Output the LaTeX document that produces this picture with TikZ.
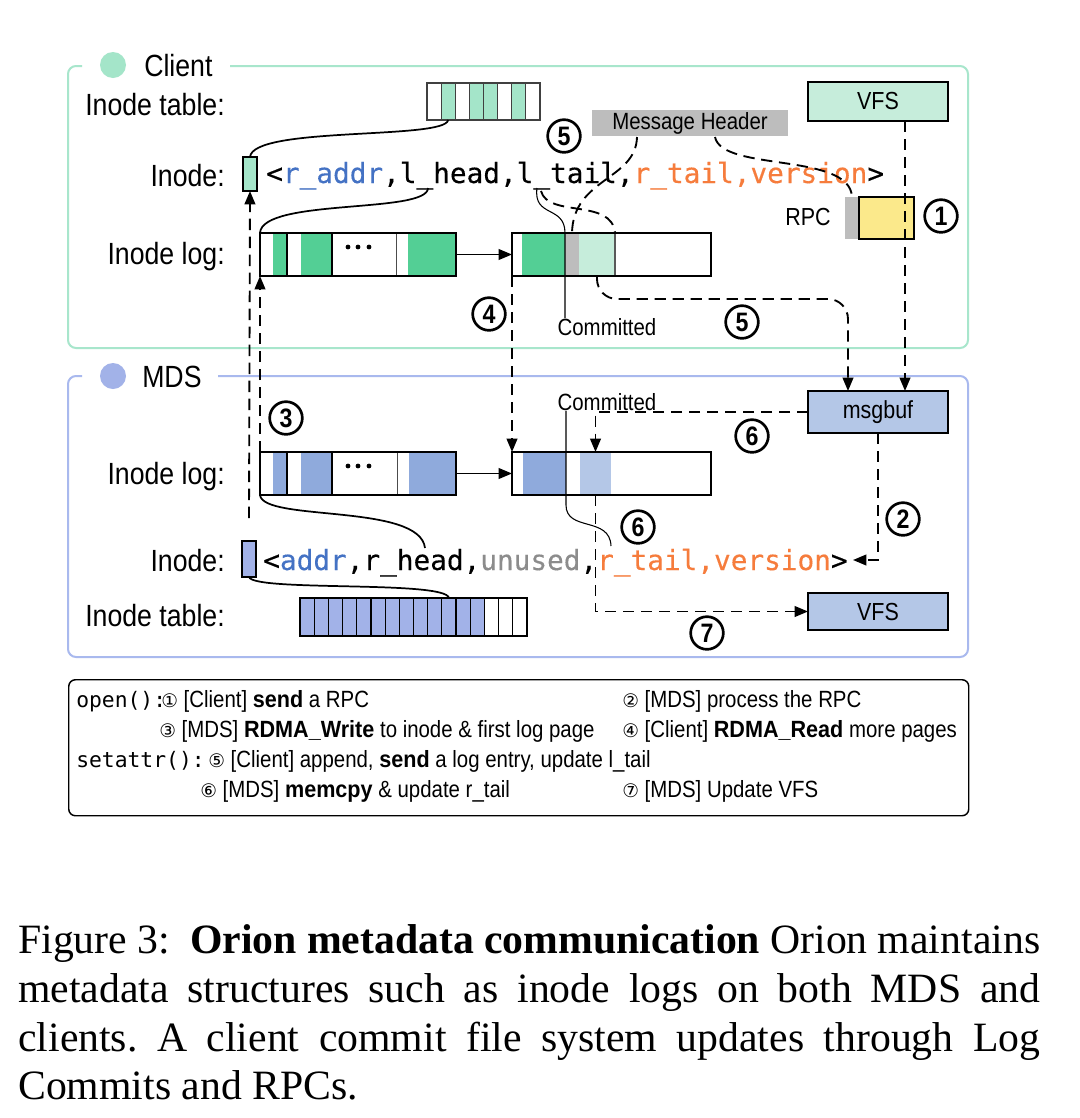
\documentclass[tikz,border=0pt]{standalone}
\usepackage{fontspec}
\setmainfont{Liberation Sans}[FakeStretch=0.87]
\setmonofont{DejaVu Sans Mono}[FakeBold=0.3]
\newfontfamily\legmono{DejaVu Sans Mono}
\newfontfamily\bsans{Liberation Sans Bold}[FakeStretch=0.92]
\newfontfamily\capfont{Liberation Serif}
\newfontfamily\symfont{DejaVu Sans}
\newcommand\lb[1]{{\bsans #1}}
\newcommand\cd[1]{{\symfont\fontsize{14}{14}\selectfont #1}}
\usetikzlibrary{arrows.meta}
\definecolor{cframe}{HTML}{A8E6CC}
\definecolor{mframe}{HTML}{A9B9EE}
\definecolor{mintL}{HTML}{A4E5C9}
\definecolor{mintP}{HTML}{C6EDDB}
\definecolor{gD}{HTML}{53CF95}
\definecolor{grayC}{HTML}{BDBDBD}
\definecolor{yel}{HTML}{FBE98B}
\definecolor{bS}{HTML}{8FAADC}
\definecolor{bL}{HTML}{B4C7E7}
\definecolor{peri}{HTML}{A2B2E8}
\definecolor{cblue}{HTML}{4472C4}
\definecolor{corange}{HTML}{F67C3C}
\definecolor{cgray}{HTML}{8C8C8C}
\newcommand\rb[7]{\node[#6, anchor=north west, minimum width={(#4-#2)*0.75pt}, minimum height={(#5-#3)*0.75pt}] (#1) at (#2,#3) {#7};}
\begin{document}
\frenchspacing
\begin{tikzpicture}[x=0.75pt,y=-0.75pt,
 lbl/.style={inner sep=0, font=\fontsize{23}{26}\selectfont},
 dsh/.style={line width=1.4pt, dash pattern=on 8.5pt off 5pt},
 conn/.style={line width=1.3pt},
 hair/.style={line width=0.8pt},
 cnum/.style={circle, draw, line width=2pt, minimum size=24.5pt, inner sep=0, font=\fontsize{20}{20}\selectfont\bfseries},
 bx/.style={draw, line width=1.1pt, inner sep=0, outer sep=0},
 seg/.style={inner sep=0, outer sep=0},
 code/.style={inner sep=0, font=\fontsize{20.8}{24}\selectfont\ttfamily},
 leg/.style={inner sep=0, font=\fontsize{17.6}{20}\selectfont},
 legm/.style={inner sep=0, font=\fontsize{16}{20}\selectfont\legmono},
 boxt/.style={font=\fontsize{18.5}{20}\selectfont},
 >={Triangle[length=10pt,width=8pt]}]
\useasboundingbox (0,0) rectangle (1080,1118);
\fill[white] (0,0) rectangle (1080,1118);

% ---------- frames ----------
\draw[cframe, line width=1.5pt, rounded corners=6pt] (230,66) -- (968,66) -- (968,348) -- (68,348) -- (68,66) -- (82,66);
\node[circle, fill=mintL, minimum size=19.5pt, inner sep=0] (cdot) at (113,65) {};
\node[lbl, anchor=base west] (clabel) at (144,76) {Client};
\draw[mframe, line width=1.5pt, rounded corners=6pt] (218,376) -- (968,376) -- (968,657) -- (68,657) -- (68,376) -- (82,376);
\node[circle, fill=peri, minimum size=19.5pt, inner sep=0] (mdot) at (113,376) {};
\node[lbl, anchor=base west] (mlabel) at (142,387) {MDS};

% ---------- client ----------
\node[lbl, anchor=base east] (cl1) at (225,115) {Inode table:};
\node[lbl, anchor=base east] (cl2) at (225,186) {Inode:};
\node[lbl, anchor=base east] (cl3) at (225,264) {Inode log:};
\foreach \i/\f in {1/white,2/mintL,3/white,4/mintL,5/mintL,6/white,7/mintL,8/white}
  \node[bx, draw=black!75, line width=0.9pt, fill=\f, anchor=north west, minimum width=10.59pt, minimum height=27.75pt] (ct\i) at ({427+(\i-1)*14.125},83) {};
\rb{cinode}{243}{157}{257}{191}{bx,fill=mintL}{}
\node[code, anchor=base west] (ccode) at (266,183) {<\textcolor{cblue}{r\_addr},l\_head,l\_tail,\textcolor{corange}{r\_tail,version}>};
% client log 1
\fill[gD] (273,233) rectangle (287,276);
\fill[gD] (301,233) rectangle (332,276);
\fill[gD] (408,233) rectangle (456,276);
\draw[line width=0.9pt] (287,233) -- (287,276) (332,233) -- (332,276);
\draw[line width=0.6pt, black!70] (396,233) -- (396,276);
\foreach \xx in {348,358,369} \fill (\xx,247) circle[radius=1.8pt];
\rb{clog1}{260}{233}{456}{276}{bx}{}
% client log 2
\rb{cg2}{522}{233}{565}{276}{seg,fill=gD}{}
\rb{cgray}{565}{233}{579}{276}{seg,fill=grayC}{}
\rb{clight}{579}{233}{615}{276}{seg,fill=mintP}{}
\draw[line width=0.8pt, black!65] (clight.north east) -- (clight.south east);
\rb{clog2}{512}{233}{711}{276}{bx}{}
\draw[conn,->] (clog1.east) -- (clog2.west);
\node[leg, anchor=center] (ccom) at (607,327) {Committed};
% VFS / header / RPC
\rb{cvfs}{808}{82}{948}{121}{bx,fill=mintP,boxt}{VFS}
\rb{mh}{592}{110}{788}{136}{seg,fill=grayC,leg}{Message Header}
\rb{rpcg}{845}{197}{859}{239}{seg,fill=grayC}{}
\rb{rpcy}{859}{197}{914}{239}{bx,fill=yel}{}
\node[leg, font=\fontsize{18.5}{20}\selectfont] (rpcl) at (808,217) {RPC};

% ---------- MDS ----------
\node[lbl, anchor=base east] (ml3) at (225,484) {Inode log:};
\node[lbl, anchor=base east] (ml2) at (225,571) {Inode:};
\node[lbl, anchor=base east] (ml1) at (225,626) {Inode table:};
\fill[bS] (273,452) rectangle (287,495);
\fill[bS] (301,452) rectangle (332,495);
\fill[bS] (409,452) rectangle (456,495);
\draw[line width=0.9pt] (287,452) -- (287,495) (332,452) -- (332,495);
\draw[line width=0.6pt, black!70] (397,452) -- (397,495);
\foreach \xx in {348,358,369} \fill (\xx,466) circle[radius=1.8pt];
\rb{mlog1}{260}{452}{456}{495}{bx}{}
\rb{mblue2}{523}{452}{566}{495}{seg,fill=bS}{}
\rb{mlight}{580}{452}{611}{495}{seg,fill=bL}{}
\rb{mlog2}{512}{452}{711}{495}{bx}{}
\draw[conn,->] (mlog1.east) -- (mlog2.west);
\rb{minode}{242}{541}{256}{577}{bx,fill=peri}{}
\node[code, anchor=base west] (mcode) at (263,570) {<\textcolor{cblue}{addr},r\_head,\textcolor{cgray}{unused},\textcolor{corange}{r\_tail,version}>};
\foreach \i in {1,...,13}
  \node[bx, line width=0.9pt, fill=peri, anchor=north west, minimum width=10.64pt, minimum height=28.5pt] (mt\i) at ({300+(\i-1)*14.1875},598) {};
\foreach \i in {14,15,16}
  \node[bx, line width=0.9pt, fill=white, anchor=north west, minimum width=10.64pt, minimum height=28.5pt] (mt\i) at ({300+(\i-1)*14.1875},598) {};
\node[leg, anchor=center] (mcom) at (607,402) {Committed};
\rb{msgbuf}{808}{391}{948}{433}{bx,fill=bL,boxt}{msgbuf}
\rb{mvfs}{808}{593}{948}{630}{bx,fill=bL,boxt}{VFS}

% ---------- free-end coordinates on text ----------
\coordinate (lhead) at (428,188);
\coordinate (ltail) at (537,188);
\coordinate (ltail2) at (541,191);
\coordinate (mh1) at (637,137);
\coordinate (mh2) at (715,137);
\coordinate (vx) at (905,0);
\coordinate (px5) at (848,0);
\coordinate (s3) at (249,518);
\coordinate (rhead) at (425,548);
\coordinate (rtail) at (611,546);
\coordinate (c2end) at (853,560);

% ---------- connectors ----------
\draw[conn] (ct2.south) .. controls (445,140) and (253,126) .. (cinode.north);
\draw[conn] (lhead) .. controls (428,214) and (262,198) .. (clog1.north west);
\draw[hair] (ltail) .. controls (533,218) and (565,205) .. (cgray.north west) -- (cgray.west |- ccom.north);
\draw[dsh] (ltail2) .. controls (548,218) and (612,198) .. (clight.north east);
\draw[dsh] (mh1) .. controls (636,180) and (573,178) .. (cgray.north);
\draw[dsh] (mh2) .. controls (722,172) and (850,152) .. (rpcg.north);
\draw[dsh,->] (cvfs.south -| vx) -- (msgbuf.north -| vx);
\draw[dsh,->,rounded corners=15pt] (clight.south) -- (clight.south |- 0,299) -- (px5 |- 0,299) -- (msgbuf.north -| px5);
\draw[dsh,->] (clog2.south west) -- (mlog2.north west);
\draw[dsh,->] (s3) -- (cinode.south);
\draw[dsh,->] (mlog1.north west) -- (clog1.south west);
\draw[dsh,->] (msgbuf.west) -- (mlight.north |- msgbuf.west) -- (mlight.north);
\draw[dsh,->] (msgbuf.south) -- (msgbuf.south |- c2end) -- (c2end);
\draw[dsh,->] (mlight.south) -- (mlight.south |- mvfs.west) -- (mvfs.west);
\draw[hair] (mblue2.east |- mcom.south) -- (566,505) .. controls (566,532) and (610,516) .. (rtail);
\draw[conn] (mlog1.south west) .. controls (263,522) and (420,503) .. (rhead);
\draw[conn] (minode.south) .. controls (254,592) and (446,580) .. (mt11.north);

% ---------- circled numbers ----------
\node[cnum] (n5a) at (564,136) {5};
\node[cnum] (n1) at (941,216) {1};
\node[cnum] (n4) at (489,314) {4};
\node[cnum] (n5b) at (742,322) {5};
\node[cnum] (n3) at (286,418) {3};
\node[cnum] (n6a) at (752,436) {6};
\node[cnum] (n2) at (903,519) {2};
\node[cnum] (n6b) at (638,527) {6};
\node[cnum] (n7) at (707,633) {7};

% ---------- legend ----------
\rb{legend}{68}{679}{968}{815}{draw, line width=1.1pt, rounded corners=5pt, inner sep=0}{}
\node[legm, anchor=base west] (lo) at (76,707) {open()};
\node[legm, anchor=base west] (lc1) at (153,707) {:};
\node[leg, anchor=base west] (l1) at (161,707) {\cd{①} [Client] \lb{send} a RPC};
\node[leg, anchor=base west] (l2) at (622,707) {\cd{②} [MDS] process the RPC};
\node[leg, anchor=base west] (l3) at (159,737) {\cd{③} [MDS] \lb{RDMA\_Write} to inode \& first log page};
\node[leg, anchor=base west] (l4) at (622,737) {\cd{④} [Client] \lb{RDMA\_Read} more pages};
\node[legm, anchor=base west] (ls) at (76,767) {setattr():};
\node[leg, anchor=base west] (l5) at (208,767) {\cd{⑤} [Client] append, \lb{send} a log entry, update l\_tail};
\node[leg, anchor=base west] (l6) at (200,797) {\cd{⑥} [MDS] \lb{memcpy} \& update r\_tail};
\node[leg, anchor=base west] (l7) at (622,797) {\cd{⑦} [MDS] Update VFS};

% ---------- caption ----------
\begin{scope}[every node/.style={inner sep=0, anchor=base west, font=\capfont\fontsize{31.3}{38}\selectfont}]
\node (cap1) at (18,953) {\makebox[766.5pt][s]{Figure 3:\ \ \textbf{Orion metadata communication} Orion maintains}};
\node (cap2) at (18,1002) {\makebox[766.5pt][s]{metadata structures such as inode logs on both MDS and}};
\node (cap3) at (18,1051) {\makebox[766.5pt][s]{clients. A client commit file system updates through Log}};
\node (cap4) at (18,1099) {Commits and RPCs.};
\end{scope}
\end{tikzpicture}
\end{document}
